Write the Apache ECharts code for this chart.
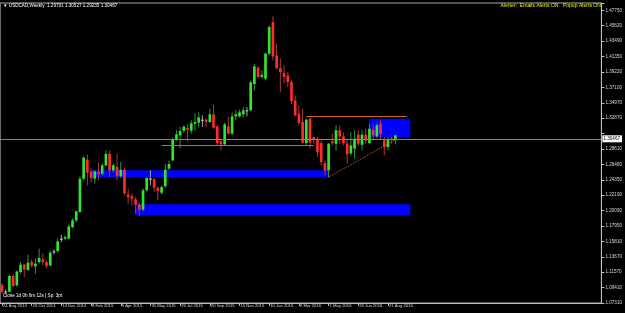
<!DOCTYPE html>
<html><head><meta charset="utf-8">
<script src="https://cdn.jsdelivr.net/npm/echarts@6/dist/echarts.min.js"></script>
<style>html,body{margin:0;padding:0;background:#000;}#c{width:625px;height:313px;}</style>
</head><body><div id="c"></div>
<script>
// ---- data ----
const titleText = '\u25BC USDCAD,Weekly  1.29791 1.30527 1.29235 1.30467';
const alertText = 'Alerter:  Emails Alerts ON.  Popup Alerts ON';
const statusText = 'Close 1d 0h 6m 12s | Sp: 3pt';
const currentPrice = 1.30467;
const startDate = [2014, 7, 24];
const totalSlots = 162;

const opens = [
1.0975,1.0891,1.0886,1.1104,1.0974,1.1158,1.1261,1.1185,1.1296,1.1237,
1.1296,1.1334,1.1296,1.1251,1.1444,1.1449,1.1620,1.1620,1.1620,1.1780,
1.1873,1.1987,1.2449,1.2712,1.2550,1.2449,1.2540,1.2518,1.2633,1.2795,
1.2564,1.2610,1.2481,1.2573,1.2228,1.2209,1.2163,1.2090,1.2021,1.2288,
1.2449,1.2440,1.2324,1.2256,1.2343,1.2587,1.2702,1.2988,1.3047,1.3112,
1.3149,1.3112,1.3209,1.3223,1.3264,1.3264,1.3232,1.3338,1.3172,1.2965,
1.2923,1.3172,1.3071,1.3310,1.3310,1.3338,1.3393,1.3393,1.3756,1.3984,
1.3855,1.3831,1.4177,1.4613,1.4153,1.3977,1.3908,1.3875,1.3784,1.3530,
1.3347,1.3231,1.2942,1.3278,1.3024,1.2988,1.2941,1.2665,1.2564,1.2964,
1.2932,1.3117,1.3034,1.2932,1.2798,1.2863,1.3057,1.2918,1.3057,1.2941,
1.3126,1.3034,1.3209,1.2978,1.2886,1.3005,1.29791];
const closes = [
1.0882,1.0891,1.1104,1.0965,1.1166,1.1261,1.1196,1.1288,1.1251,1.1274,
1.1352,1.1296,1.1241,1.1426,1.1444,1.1583,1.1620,1.1642,1.1790,1.1873,
1.1997,1.2449,1.2739,1.2532,1.2458,1.2550,1.2508,1.2633,1.2792,1.2564,
1.2633,1.2481,1.2573,1.2250,1.2195,1.2173,1.2090,1.2021,1.2288,1.2458,
1.2449,1.2324,1.2278,1.2333,1.2573,1.2652,1.2988,1.3061,1.3107,1.3168,
1.3126,1.3214,1.3232,1.3296,1.3264,1.3232,1.3338,1.3154,1.2941,1.2923,
1.3200,1.3071,1.3310,1.3338,1.3365,1.3393,1.3393,1.3780,1.4000,1.3855,
1.3883,1.4177,1.4545,1.4139,1.3977,1.3922,1.3853,1.3784,1.3521,1.3324,
1.3218,1.2948,1.3264,1.2948,1.2996,1.2816,1.2678,1.2564,1.2932,1.2941,
1.3117,1.3034,1.2941,1.2785,1.2909,1.3002,1.2932,1.3057,1.2978,1.3140,
1.3048,1.3186,1.3071,1.2886,1.2996,1.2988,1.30467];
const lows = [
1.0864,1.0864,1.0878,1.0947,1.0960,1.1136,1.1091,1.1180,1.1224,1.1136,
1.1274,1.1251,1.1210,1.1237,1.1403,1.1430,1.1573,1.1596,1.1610,1.1762,
1.1845,1.1983,1.2426,1.2356,1.2398,1.2380,1.2426,1.2495,1.2620,1.2471,
1.2536,1.2426,1.2460,1.2218,1.2104,1.2080,1.1965,1.1928,1.1997,1.2270,
1.2356,1.2264,1.2149,1.2232,1.2320,1.2573,1.2688,1.2971,1.2870,1.3080,
1.2955,1.3071,1.3117,1.3158,1.3162,1.3162,1.3218,1.3140,1.2909,1.2840,
1.2909,1.3061,1.3047,1.3255,1.3296,1.3301,1.3310,1.3379,1.3669,1.3831,
1.3831,1.3807,1.4153,1.4084,1.3955,1.3646,1.3770,1.3715,1.3480,1.3310,
1.3186,1.2932,1.2918,1.2863,1.2932,1.2748,1.2632,1.2495,1.2467,1.2909,
1.2840,1.2932,1.2909,1.2655,1.2771,1.2725,1.2900,1.2840,1.2932,1.2932,
1.2978,1.3010,1.2997,1.2771,1.2840,1.2932,1.29235];
const highs = [
1.1002,1.0919,1.1126,1.1126,1.1180,1.1297,1.1270,1.1399,1.1334,1.1343,
1.1482,1.1417,1.1320,1.1458,1.1472,1.1624,1.1675,1.1665,1.1817,1.1900,
1.2011,1.2481,1.2757,1.2785,1.2592,1.2570,1.2670,1.2661,1.2840,1.2840,
1.2661,1.2794,1.2680,1.2605,1.2311,1.2246,1.2195,1.2126,1.2315,1.2472,
1.2564,1.2460,1.2340,1.2356,1.2656,1.2702,1.3020,1.3117,1.3163,1.3186,
1.3200,1.3255,1.3355,1.3365,1.3324,1.3282,1.3415,1.3472,1.3186,1.2978,
1.3223,1.3301,1.3365,1.3393,1.3402,1.3439,1.3439,1.3797,1.4037,1.4000,
1.3946,1.4194,1.4567,1.4692,1.4315,1.4107,1.4015,1.3922,1.3807,1.3600,
1.3462,1.3416,1.3278,1.3296,1.3024,1.3024,1.2978,1.2701,1.2941,1.3071,
1.3186,1.3186,1.3089,1.3002,1.3094,1.3117,1.3117,1.3117,1.3140,1.3209,
1.3209,1.3209,1.3255,1.3024,1.3024,1.3024,1.30527];

const yTickLabels = ['1.07310','1.09410','1.11570','1.13670','1.15810','1.17950','1.20090','1.22190','1.24350','1.26480','1.28610','','1.32870','1.34970','1.37100','1.39220','1.41350','1.43490','1.45620','1.47750'];
const xTickLabels = ['24 Aug 2014','19 Oct 2014','14 Dec 2014','8 Feb 2015','5 Apr 2015','31 May 2015','26 Jul 2015','20 Sep 2015','15 Nov 2015','10 Jan 2016','6 Mar 2016','1 May 2016','26 Jun 2016','21 Aug 2016'];

// zones: [startBar, endBar, upperPrice, lowerPrice]
const zoneStart = [24, 36, 99];
const zoneEnd = [88, 110, 110];
const zoneTop = [1.2564, 1.2094, 1.3278];
const zoneBottom = [1.2467, 1.1942, 1.3024];
// horizontal levels: [startBar, endBar, price]
const levelStart = [43, 82];
const levelEnd = [84, 109];
const levelPrice = [1.2909, 1.3310];
// trend line
const trendBars = [88, 106];
const trendPrices = [1.2471, 1.2988];

// ---- build ----
const months = ['Jan','Feb','Mar','Apr','May','Jun','Jul','Aug','Sep','Oct','Nov','Dec'];
const categories = [];
for (let i = 0; i < totalSlots; i++) {
  const d = new Date(Date.UTC(startDate[0], startDate[1], startDate[2] + 7 * i));
  categories.push(d.getUTCDate() + ' ' + months[d.getUTCMonth()] + ' ' + d.getUTCFullYear());
}
const candles = opens.map((o, i) => [i, o, closes[i], lows[i], highs[i]]);

const yMin = 1.07310, yTop = 1.47750;
const yInterval = (yTop - yMin) / 19;
const yMax = 1.48764;

const axisGray = '#c0c0c0';
const font = 'Liberation Sans';

const chart = echarts.init(document.getElementById('c'), null, {renderer: 'canvas'});
chart.setOption({
  backgroundColor: '#000',
  animation: false,
  grid: {left: 0, right: 20, top: 3, bottom: 10, show: true, borderColor: '#a8a8a8', borderWidth: 1, backgroundColor: '#000'},
  xAxis: {
    type: 'category', data: categories, boundaryGap: true,
    axisLine: {show: true, lineStyle: {color: axisGray, width: 1}},
    axisTick: {show: true, alignWithLabel: true, length: 3, lineStyle: {color: axisGray},
      interval: (i, v) => xTickLabels.indexOf(v) >= 0},
    axisLabel: {show: true, interval: (i, v) => xTickLabels.indexOf(v) >= 0,
      align: 'left', margin: 1, color: '#d8d8d8', fontSize: 4.2, fontFamily: font, padding: [0, 0, 0, 1]},
    splitLine: {show: false}
  },
  yAxis: {
    type: 'value', position: 'right', min: yMin, max: yMax, interval: yInterval, scale: true,
    axisLine: {show: true, lineStyle: {color: axisGray, width: 1}},
    axisTick: {show: true, length: 3, lineStyle: {color: axisGray}},
    axisLabel: {show: true, margin: 4, color: '#d8d8d8', fontSize: 4.6, fontFamily: font,
      formatter: (v, idx) => (yTickLabels[idx] !== undefined ? yTickLabels[idx] : '')},
    splitLine: {show: false}
  },
  series: [
    {
      type: 'line', data: [], z: 1, silent: true,
      markArea: {
        silent: true,
        itemStyle: {color: '#0000ff', opacity: 1},
        data: zoneStart.map((s, k) => [
          {coord: [categories[s], zoneTop[k]]},
          {coord: [categories[zoneEnd[k]], zoneBottom[k]]}
        ])
      }
    },
    {
      type: 'line', data: [], z: 2, silent: true,
      markLine: {
        silent: true, symbol: 'none', animation: false,
        data: [
          ...levelStart.map((s, k) => [
            {coord: [categories[s], levelPrice[k]], lineStyle: {color: '#d2691e', width: 1, type: 'solid'}, label: {show: false}},
            {coord: [categories[levelEnd[k]], levelPrice[k]]}
          ]),
          [
            {coord: [categories[trendBars[0]], trendPrices[0]], lineStyle: {color: '#d2691e', width: 1, type: [1, 1]}, label: {show: false}},
            {coord: [categories[trendBars[1]], trendPrices[1]]}
          ],
          {yAxis: currentPrice, lineStyle: {color: '#778899', width: 1, type: 'solid'},
            label: {show: true, position: 'end', distance: 1, formatter: currentPrice.toFixed(5),
              backgroundColor: '#ffffff', color: '#000', fontSize: 4.6, fontFamily: font, padding: [1, 2, 1, 1]}}
        ]
      }
    },
    {
      type: 'custom', z: 3, data: candles,
      encode: {x: 0, y: [1, 2, 3, 4]},
      renderItem: (params, api) => {
        const x = api.value(0);
        const o = api.value(1), c = api.value(2), l = api.value(3), h = api.value(4);
        const pO = api.coord([x, o]), pC = api.coord([x, c]);
        const pL = api.coord([x, l]), pH = api.coord([x, h]);
        const bw = api.size([1, 0])[0] * 0.72;
        const flat = Math.abs(o - c) < 1e-6;
        const up = c > o;
        const body = flat ? '#d8d8d8' : (up ? '#2ee62e' : '#ff2a2a');
        const wick = flat ? '#a0a0a0' : (up ? '#3f8f3f' : '#a83a3a');
        const top = Math.min(pO[1], pC[1]);
        const hh = Math.max(Math.abs(pO[1] - pC[1]), 1);
        return {type: 'group', children: [
          {type: 'line', shape: {x1: pL[0], y1: pL[1], x2: pH[0], y2: pH[1]}, style: {stroke: wick, lineWidth: 1}},
          {type: 'rect', shape: {x: pO[0] - bw / 2, y: top, width: bw, height: hh}, style: {fill: body}}
        ]};
      }
    }
  ],
  graphic: [
    {type: 'text', left: 3, top: 3, z: 10, style: {text: titleText, fill: '#ffffff', fontSize: 4.6, fontFamily: font}},
    {type: 'text', right: 24, top: 3, z: 10, style: {text: alertText, fill: '#f0f000', fontSize: 5.1, fontFamily: font}},
    {type: 'text', left: 3, top: 293, z: 10, style: {text: statusText, fill: '#ffffff', fontSize: 4.6, fontFamily: font}}
  ]
});
</script></body></html>
